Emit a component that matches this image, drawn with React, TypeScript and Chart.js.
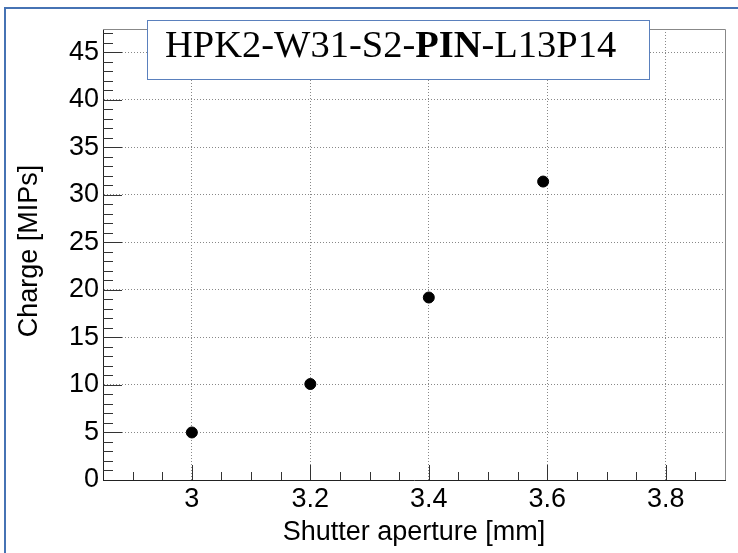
import React, { useEffect, useRef } from "react";
import { Chart, registerables } from "chart.js";

Chart.register(...registerables);

// ---- data ----
const apertures = [3.0, 3.2, 3.4, 3.593];
const charges = [5.0, 10.1, 19.2, 31.4];
const xTickValues = [3, 3.2, 3.4, 3.6, 3.8];
const yTickValues = [0, 5, 10, 15, 20, 25, 30, 35, 40, 45];
const xMinorStep = 0.05;
const yMinorStep = 1;
const xRange = [2.85, 3.9];
const yRange = [0, 47.45];
const titleParts = [
  { text: "HPK2-W31-S2-", bold: false },
  { text: "PIN", bold: true },
  { text: "-L13P14", bold: false },
];
const xTitle = "Shutter aperture [mm]";
const yTitle = "Charge [MIPs]";

const SANS = '"Liberation Sans", Arial, sans-serif';
const SERIF = '"Liberation Serif", "Times New Roman", serif';

const rootPlugin = {
  id: "rootStyle",
  afterDatasetsDraw(chart: any) {
    const { ctx, chartArea: ca, scales } = chart;
    const x = scales.x;
    const y = scales.y;
    ctx.save();
    // top and right frame
    ctx.strokeStyle = "#888";
    ctx.lineWidth = 1;
    ctx.beginPath();
    ctx.moveTo(ca.left, Math.round(ca.top) + 0.5);
    ctx.lineTo(Math.round(ca.right) + 0.5, Math.round(ca.top) + 0.5);
    ctx.lineTo(Math.round(ca.right) + 0.5, ca.bottom);
    ctx.stroke();

    // inner ticks
    ctx.strokeStyle = "#333";
    ctx.beginPath();
    const nX = Math.round((xRange[1] - xRange[0]) / xMinorStep);
    for (let i = 1; i < nX; i++) {
      const v = xRange[0] + i * xMinorStep;
      const major = xTickValues.some((t) => Math.abs(t - v) < 1e-6);
      const px = Math.round(x.getPixelForValue(v)) + 0.5;
      const len = major ? 15 : 8;
      ctx.moveTo(px, ca.bottom);
      ctx.lineTo(px, ca.bottom - len);
    }
    const nY = Math.floor((yRange[1] - yRange[0]) / yMinorStep);
    for (let i = 1; i <= nY; i++) {
      const v = yRange[0] + i * yMinorStep;
      const major = yTickValues.some((t) => Math.abs(t - v) < 1e-6);
      const py = Math.round(y.getPixelForValue(v)) + 0.5;
      const len = major ? 19 : 10;
      ctx.moveTo(ca.left, py);
      ctx.lineTo(ca.left + len, py);
    }
    ctx.stroke();
    ctx.restore();
  },
  afterDraw(chart: any) {
    const { ctx, chartArea: ca } = chart;
    ctx.save();
    // outer blue frame
    ctx.fillStyle = "#4673b4";
    ctx.fillRect(4, 7, 2, 553 - 7);
    ctx.fillRect(4, 7, 738 - 4, 2);

    // title box
    ctx.fillStyle = "#fff";
    ctx.fillRect(147, 20, 503, 60);
    ctx.strokeStyle = "#5a80bd";
    ctx.lineWidth = 1;
    ctx.strokeRect(147.5, 20.5, 502, 59);

    ctx.fillStyle = "#000";
    ctx.textBaseline = "alphabetic";
    ctx.textAlign = "left";
    let tx = 165;
    for (const part of titleParts) {
      ctx.font = (part.bold ? "bold " : "") + "38.5px " + SERIF;
      ctx.fillText(part.text, tx, 57);
      tx += ctx.measureText(part.text).width;
    }

    // axis titles
    ctx.font = "27px " + SANS;
    ctx.textAlign = "center";
    ctx.fillText(xTitle, (ca.left + ca.right) / 2, 540);
    ctx.save();
    ctx.translate(37, 251);
    ctx.rotate(-Math.PI / 2);
    ctx.fillText(yTitle, 0, 0);
    ctx.restore();
    ctx.restore();
  },
};

export default function App() {
  const ref = useRef<HTMLCanvasElement>(null);
  useEffect(() => {
    if (!ref.current) return;
    const chart = new Chart(ref.current, {
      type: "scatter",
      data: {
        datasets: [
          {
            data: apertures.map((a, i) => ({ x: a, y: charges[i] })),
            backgroundColor: "#000",
            borderColor: "#000",
            pointRadius: 5.5,
            pointHoverRadius: 5.5,
          },
        ],
      },
      options: {
        animation: false,
        responsive: false,
        devicePixelRatio: 1,
        events: [],
        layout: { padding: { top: 29, right: 13, left: 0, bottom: 0 } },
        plugins: {
          legend: { display: false },
          tooltip: { enabled: false },
          title: { display: false },
        },
        scales: {
          x: {
            type: "linear",
            min: xRange[0],
            max: xRange[1],
            afterBuildTicks: (s: any) => {
              s.ticks = xTickValues.map((v) => ({ value: v }));
            },
            afterFit: (s: any) => {
              s.height = 73;
            },
            grid: { color: "#888", lineWidth: 1, drawTicks: false },
            border: { display: true, color: "#222", width: 1, dash: [1, 2] },
            ticks: {
              font: { family: SANS, size: 27 },
              color: "#000",
              padding: 3,
              maxRotation: 0,
              autoSkip: false,
              callback: (v: any) => String(v),
            },
          },
          y: {
            type: "linear",
            min: yRange[0],
            max: yRange[1],
            afterBuildTicks: (s: any) => {
              s.ticks = yTickValues.map((v) => ({ value: v }));
            },
            afterFit: (s: any) => {
              s.width = 103;
            },
            grid: { color: "#888", lineWidth: 1, drawTicks: false },
            border: { display: true, color: "#222", width: 1, dash: [1, 2] },
            ticks: {
              font: { family: SANS, size: 27 },
              color: "#000",
              padding: 4,
              autoSkip: false,
              callback: (v: any) => String(v),
            },
          },
        },
      },
      plugins: [rootPlugin],
    } as any);
    return () => chart.destroy();
  }, []);
  return (
    <div style={{ position: "absolute", left: 0, top: 0, width: 738, height: 553, background: "#fff" }}>
      <canvas ref={ref} width={738} height={553} style={{ display: "block" }} />
    </div>
  );
}
